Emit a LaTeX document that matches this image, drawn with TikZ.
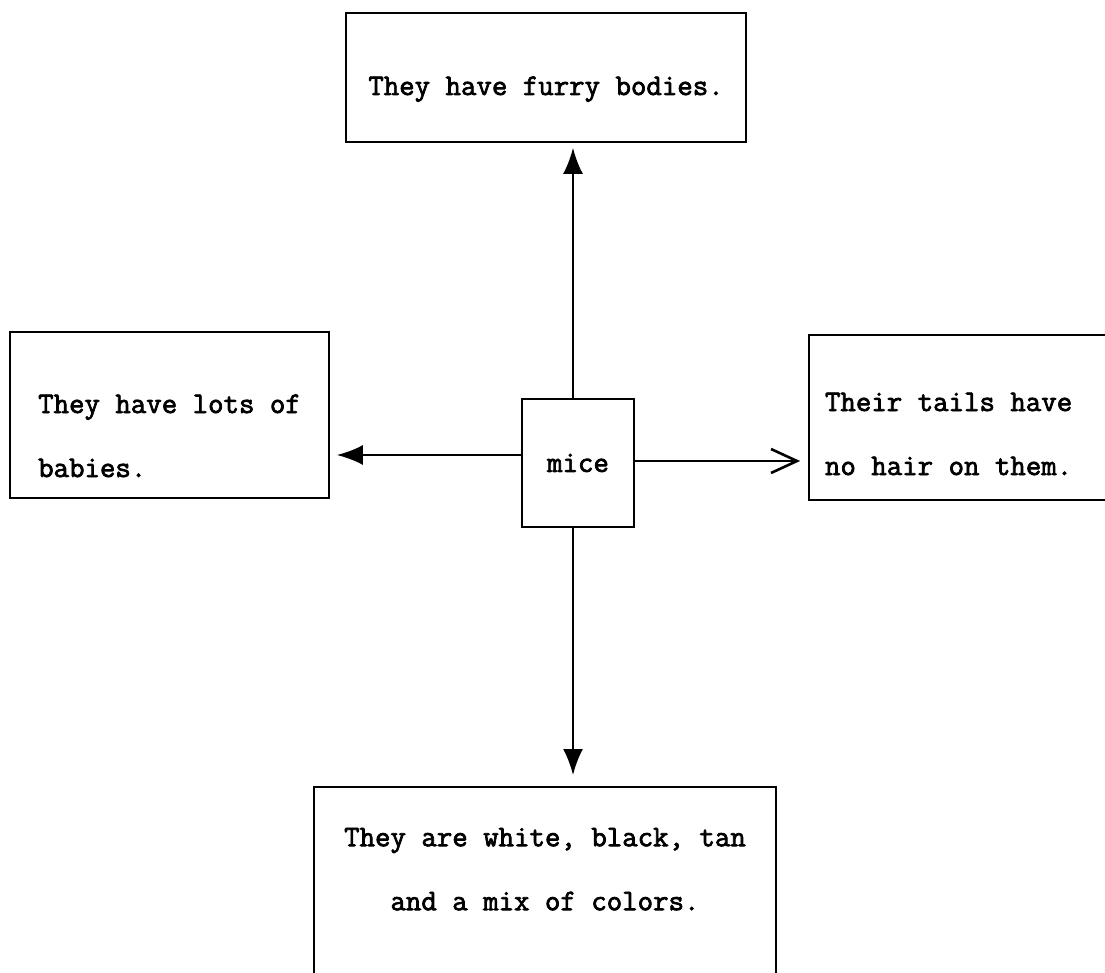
\documentclass[tikz,border=0pt]{standalone}
\usepackage{fontspec}
\newfontfamily\typer{Latin Modern Mono}[AutoFakeBold=2.4]
\usetikzlibrary{arrows.meta}

\begin{document}
\begin{tikzpicture}[x=1pt,y=-1pt,
  box/.style={draw,line width=1.8pt,inner sep=0pt,font=\typer\bfseries\fontsize{30}{64}\selectfont,
    execute at begin node={\spaceskip=0pt\xspaceskip=0pt}},
  link/.style={line width=2.2pt},
  fat/.style={-{Latex[length=26pt,width=20pt]}},
  barb/.style={-{Straight Barb[length=26pt,width=24pt,line width=2.6pt]}}]
  \clip (0,0) rectangle (1105,973);
  \fill [white] (0,0) rectangle (1105,973);

  \node [box,minimum width=112pt,minimum height=128pt] (mice) at (578,463) {mice};
  \node [box,minimum width=400pt,minimum height=129pt,text height=35pt,text depth=0pt] (furry) at (546,77.5) {They have furry bodies.};
  \node [box,minimum width=319pt,minimum height=166pt,align=left,text height=124pt,text depth=0pt] (babies) at (169.5,415) {They have lots of\\babies.};
  \node [box,minimum width=320pt,minimum height=165pt,text width=288pt,align=left,text height=0pt,text depth=13pt] (tails) at (969,417.5) {Their tails have\\no hair on them.};
  \node [box,anchor=north,minimum width=462pt,align=center,inner ysep=41pt,text depth=200pt] (colors) at (545,786) {They are white, black, tan\\and a mix of colors.};

  \draw [link,fat,shorten >=5pt] ([xshift=-5pt]mice.north) -- ([xshift=-5pt]mice.north |- furry.south);
  \draw [link,fat,shorten >=7pt] ([yshift=8pt]mice.west) -- ([yshift=8pt]mice.west -| babies.east);
  \draw [link,barb,shorten >=8pt] ([yshift=2pt]mice.east) -- ([yshift=2pt]mice.east -| tails.west);
  \draw [link,fat,shorten >=11pt] ([xshift=-5pt]mice.south) -- ([xshift=-5pt]mice.south |- colors.north);
\end{tikzpicture}
\end{document}
